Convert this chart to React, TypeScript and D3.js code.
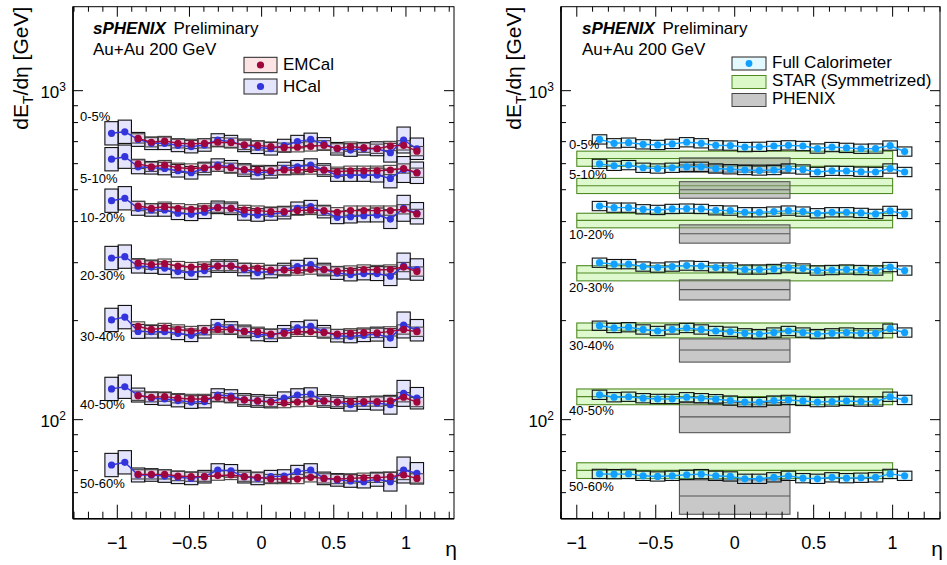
import React from 'react';
import * as d3 from 'd3';

// eta bin centres and width shared by all calorimeter series
const etaBins = [-1.04, -0.948, -0.856, -0.764, -0.672, -0.58, -0.488, -0.396, -0.304, -0.212, -0.12, -0.028,
  0.064, 0.156, 0.248, 0.34, 0.432, 0.524, 0.616, 0.708, 0.8, 0.892, 0.984, 1.076];
const binWidth = 0.092;
const etaEmcal = etaBins.slice(2);

const centralities = ['0-5%', '5-10%', '10-20%', '20-30%', '30-40%', '40-50%', '50-60%'];

// EMCal (bins 2..23)
const emcal = [
  [716, 697, 703, 692, 689, 692, 697, 695, 684, 682, 676, 671, 673, 677, 682, 668, 676, 671, 666, 679, 682, 655],
  [599, 587, 594, 583, 580, 583, 587, 583, 576, 574, 571, 574, 574, 576, 574, 567, 571, 571, 571, 574, 580, 563],
  [446, 439, 444, 439, 436, 439, 441, 439, 434, 432, 429, 429, 432, 434, 432, 427, 432, 432, 432, 432, 436, 422],
  [299, 296, 298, 293, 291, 292, 293, 293, 289, 289, 285, 285, 284, 286, 286, 283, 284, 286, 285, 286, 291, 282],
  [192, 188, 190, 188, 186, 187, 188, 188, 185.5, 185, 182, 183, 185, 185, 184, 182, 183, 184, 183.5, 185.5, 188, 185],
  [118.2, 117.0, 117.5, 116.2, 115.6, 115.6, 117.0, 116.2, 114.8, 114.0, 113.1, 112.3, 113.1, 113.5, 114.0, 113.1, 113.5, 113.5, 113.5, 114.0, 117.0, 113.1],
  [68.2, 68.2, 68.2, 67.4, 67.1, 67.1, 67.6, 67.9, 67.1, 66.8, 66.0, 66.0, 66.0, 66.8, 66.3, 66.0, 66.3, 66.6, 66.6, 67.1, 67.9, 66.3],
];
const emcalSys = 0.033;

// HCal (all 24 bins)
const hcal = [
  [742, 750, 711, 692, 692, 682, 676, 684, 708, 700, 682, 673, 666, 681, 700, 711, 689, 666, 660, 666, 666, 648, 708, 666],
  [619, 630, 587, 583, 580, 571, 563, 580, 594, 587, 574, 563, 567, 580, 587, 594, 574, 554, 554, 554, 554, 541, 576, 563],
  [463, 471, 439, 434, 434, 424, 421, 427, 442, 439, 422, 419, 422, 426, 439, 444, 429, 412, 414, 417, 419, 407, 439, 424],
  [310, 313, 293, 291, 289, 282, 279, 284, 293, 293, 286, 280, 282, 286, 292, 296, 286, 279, 276, 278, 278, 273, 293, 286],
  [201, 205, 185.5, 185, 185, 183, 180.5, 185, 193, 190, 185.5, 181.5, 180.5, 185, 190, 192, 185, 180, 179, 180.5, 182, 177, 194, 187],
  [124.0, 125.9, 118.8, 116.2, 115.6, 114.3, 113.1, 113.5, 118.8, 118.0, 114.8, 114.0, 113.5, 116.2, 118.8, 119.6, 114.0, 113.1, 111.0, 112.3, 112.3, 111.0, 120.2, 116.2],
  [72.8, 74.2, 67.9, 67.9, 67.4, 66.8, 66.3, 67.1, 70.3, 69.9, 67.1, 66.3, 67.1, 67.4, 69.5, 70.3, 66.3, 65.6, 65.1, 64.8, 65.9, 64.8, 70.3, 68.7],
];
const hcalSys = [0.085, 0.085, 0.05, 0.045, 0.045, 0.045, 0.045, 0.045, 0.045, 0.045, 0.045, 0.045,
  0.045, 0.045, 0.045, 0.045, 0.045, 0.045, 0.045, 0.045, 0.05, 0.068, 0.095, 0.078];

// Full calorimeter (bins 2..23)
const fullCalo = [
  [711, 692, 695, 687, 684, 689, 697, 692, 682, 681, 674, 675, 679, 682, 679, 667, 674, 670, 666, 667, 681, 653],
  [599, 591, 594, 583, 580, 583, 587, 587, 580, 577, 574, 572, 574, 580, 576, 566, 571, 570, 567, 566, 580, 566],
  [446, 441, 441, 436, 434, 437, 438, 437, 433, 432, 427, 427, 429, 432, 429, 424, 427, 427, 425, 422, 431, 422],
  [300, 297, 297, 292, 290, 292, 294, 293, 290, 290, 286, 286, 287, 290, 288, 284, 285, 286, 285, 284, 291, 284],
  [193, 190, 191, 188, 186, 188, 190, 188, 186, 185, 183, 182, 184, 186, 184, 182, 183, 184, 183, 183, 189, 184],
  [119, 117, 117.4, 116.2, 115.6, 115.6, 117, 116.2, 115.4, 114.3, 113.1, 113.1, 114.3, 114.8, 114, 113.1, 113.5, 114, 113.5, 113.5, 117.4, 114.8],
  [68.4, 68.3, 68.4, 67.5, 67.2, 67.5, 68, 68.3, 67.5, 67.2, 66.1, 66.1, 66.8, 67.5, 66.4, 66.1, 66.8, 66.4, 66.6, 66.8, 68.4, 67.5],
];
const fullSys = 0.033;

// STAR (symmetrized) and PHENIX references
const starRange = [-1, 1];
const starValues = [622, 514, 403.5, 279, 187, 117.5, 70.1];
const starSys = [0.053, 0.053, 0.051, 0.053, 0.052, 0.055, 0.055];
const phenixRange = [-0.35, 0.35];
const phenixValues = [595, 500, 367.5, 248.5, 162.8, 102, 58.6];
const phenixSys = [0.05, 0.058, 0.064, 0.07, 0.081, 0.105, 0.12];

// centrality label anchors (GeV) for each panel
const labelLeft = [809, 524, 399, 266, 173, 108, 62];
const labelRight = [665, 539, 354, 244, 163, 103, 60.6];

const xMajor = [-1, -0.5, 0, 0.5, 1];
const yMajor = [100, 1000];
const yMinor = [60, 70, 80, 90, 200, 300, 400, 500, 600, 700, 800, 900];

const FONT = "'Liberation Sans', Arial, Helvetica, sans-serif";
const C_EM = '#a0063c';
const C_HC = '#3434dc';
const C_FC = '#12a0ff';

const y = d3.scaleLog().domain([50, 1800]).range([518.7, 6.7]);
const xL = d3.scaleLinear().domain([-1.307, 1.333]).range([73, 454]);
const xR = d3.scaleLinear().domain([-1.1, 1.3]).range([561, 940]);

const fmtTick = (v: number) => (v < 0 ? '\u2212' + Math.abs(v) : String(v));

function Axes({ x, titleX }: { x: d3.ScaleLinear<number, number>; titleX: number }) {
  const [x0, x1] = x.range();
  const [d0, d1] = x.domain();
  const [yb, yt] = y.range();
  const minorX = d3.range(Math.ceil(d0 * 10 - 1e-6), Math.floor(d1 * 10 + 1e-6) + 1).map((k) => k / 10)
    .filter((v) => !xMajor.some((m) => Math.abs(m - v) < 1e-6));
  return (
    <g>
      <rect x={x0} y={yt} width={x1 - x0} height={yb - yt} fill="none" stroke="#000" strokeWidth={1} />
      <line x1={x0} x2={x0} y1={yt} y2={yb} stroke="#000" strokeWidth={1.6} />
      <line x1={x0} x2={x1} y1={yb} y2={yb} stroke="#000" strokeWidth={1.6} />
      {xMajor.map((v) => (
        <g key={'M' + v}>
          <line x1={x(v)} x2={x(v)} y1={yb} y2={yb - 14} stroke="#000" />
          <line x1={x(v)} x2={x(v)} y1={yt} y2={yt + 10} stroke="#000" />
          <text x={x(v)} y={yb + 30} textAnchor="middle" fontSize={18} fontFamily={FONT}>{fmtTick(v)}</text>
        </g>
      ))}
      {minorX.map((v) => (
        <g key={'m' + v}>
          <line x1={x(v)} x2={x(v)} y1={yb} y2={yb - 7} stroke="#000" />
          <line x1={x(v)} x2={x(v)} y1={yt} y2={yt + 5} stroke="#000" />
        </g>
      ))}
      {yMajor.map((v) => (
        <g key={'Y' + v}>
          <line x1={x0} x2={x0 + 10} y1={y(v)} y2={y(v)} stroke="#000" />
          <line x1={x1} x2={x1 - 10} y1={y(v)} y2={y(v)} stroke="#000" />
          <text x={x0 - 7} y={y(v) + 7} textAnchor="end" fontSize={17} fontFamily={FONT}>
            10<tspan dy={-7} fontSize={12}>{Math.round(Math.log10(v))}</tspan>
          </text>
        </g>
      ))}
      {yMinor.map((v) => (
        <g key={'y' + v}>
          <line x1={x0} x2={x0 + 5} y1={y(v)} y2={y(v)} stroke="#000" />
          <line x1={x1} x2={x1 - 5} y1={y(v)} y2={y(v)} stroke="#000" />
        </g>
      ))}
      <text x={x1 + 3} y={556} textAnchor="end" fontSize={21} fontFamily={FONT}>η</text>
      <text transform={`translate(${titleX},${yt}) rotate(-90)`} textAnchor="end" fontSize={21} fontFamily={FONT}>
        dE<tspan dy={5} fontSize={14}>T</tspan><tspan dy={-5}>/dη [GeV]</tspan>
      </text>
    </g>
  );
}

function Header({ x0 }: { x0: number }) {
  return (
    <g fontFamily={FONT} fontSize={17}>
      <text x={x0} y={34}>
        <tspan fontWeight="bold" fontStyle="italic">sPHENIX</tspan>
        <tspan dx={3}> Preliminary</tspan>
      </text>
      <text x={x0} y={55}>Au+Au 200 GeV</text>
    </g>
  );
}

function boxes(x: d3.ScaleLinear<number, number>, etas: number[], vals: number[], sys: (i: number) => number,
  fill: string, stroke: string, key: string) {
  return vals.map((v, i) => {
    const s = sys(i);
    const top = y(v * (1 + s));
    const bot = y(v / (1 + s));
    const xa = x(etas[i] - binWidth / 2);
    const xb = x(etas[i] + binWidth / 2);
    return <rect key={key + i} x={xa} y={top} width={xb - xa} height={bot - top} fill={fill} stroke={stroke} strokeWidth={1.1} />;
  });
}

function series(x: d3.ScaleLinear<number, number>, etas: number[], vals: number[], color: string, key: string) {
  const line = d3.line<number>().x((_, i) => x(etas[i])).y((v) => y(v));
  return (
    <g key={key}>
      <path d={line(vals) || ''} fill="none" stroke={color} strokeWidth={1.4} />
      {vals.map((v, i) => <circle key={i} cx={x(etas[i])} cy={y(v)} r={3.6} fill={color} />)}
    </g>
  );
}

function LeftPanel() {
  return (
    <g>
      {hcal.map((vals, c) => <g key={'hb' + c}>{boxes(xL, etaBins, vals, (i) => hcalSys[i], 'rgba(90,90,235,0.16)', '#111', 'h')}</g>)}
      {emcal.map((vals, c) => <g key={'eb' + c}>{boxes(xL, etaEmcal, vals, () => emcalSys, 'rgba(235,90,90,0.14)', '#444', 'e')}</g>)}
      {hcal.map((vals, c) => series(xL, etaBins, vals, C_HC, 'hs' + c))}
      {emcal.map((vals, c) => series(xL, etaEmcal, vals, C_EM, 'es' + c))}
      {centralities.map((t, c) => (
        <text key={t} x={80} y={y(labelLeft[c])} fontSize={13} fontFamily={FONT}>{t}</text>
      ))}
      <Axes x={xL} titleX={28} />
      <Header x0={93} />
      <g fontFamily={FONT} fontSize={17}>
        <rect x={244} y={57.3} width={33} height={15.4} fill="rgba(235,90,90,0.16)" stroke="#222" />
        <circle cx={260.5} cy={65} r={3.6} fill={C_EM} />
        <text x={283} y={70}>EMCal</text>
        <rect x={244} y={79} width={33} height={15} fill="rgba(90,90,235,0.16)" stroke="#222" />
        <circle cx={260.5} cy={86.5} r={3.6} fill={C_HC} />
        <text x={283} y={92}>HCal</text>
      </g>
    </g>
  );
}

function RightPanel() {
  const band = (range: number[], v: number, s: number, fill: string, stroke: string, key: string) => {
    const xa = xR(range[0]);
    const xb = xR(range[1]);
    const top = y(v * (1 + s));
    const bot = y(v * (1 - s));
    return (
      <g key={key}>
        <rect x={xa} y={top} width={xb - xa} height={bot - top} fill={fill} stroke={stroke} strokeWidth={1.1} />
        <line x1={xa} x2={xb} y1={y(v)} y2={y(v)} stroke={stroke} strokeWidth={1.1} />
      </g>
    );
  };
  return (
    <g>
      {starValues.map((v, c) => band(starRange, v, starSys[c], 'rgba(175,240,135,0.4)', '#4f8a22', 'st' + c))}
      {phenixValues.map((v, c) => band(phenixRange, v, phenixSys[c], 'rgba(140,140,140,0.48)', '#555', 'ph' + c))}
      {fullCalo.map((vals, c) => <g key={'fb' + c}>{boxes(xR, etaEmcal, vals, () => fullSys, 'rgba(120,220,255,0.2)', '#111', 'f')}</g>)}
      {fullCalo.map((vals, c) => series(xR, etaEmcal, vals, C_FC, 'fs' + c))}
      {centralities.map((t, c) => (
        <text key={t} x={569} y={y(labelRight[c])} fontSize={13} fontFamily={FONT}>{t}</text>
      ))}
      <Axes x={xR} titleX={521} />
      <Header x0={582} />
      <g fontFamily={FONT} fontSize={17}>
        <rect x={732} y={57} width={34} height={13} fill="rgba(120,220,255,0.2)" stroke="#222" />
        <circle cx={749} cy={63.5} r={3.4} fill={C_FC} />
        <text x={772} y={68}>Full Calorimeter</text>
        <rect x={732} y={75.5} width={34} height={13} fill="rgba(175,240,135,0.45)" stroke="#4f8a22" />
        <text x={772} y={86}>STAR (Symmetrized)</text>
        <rect x={732} y={93.5} width={34} height={13} fill="rgba(140,140,140,0.48)" stroke="#444" />
        <text x={772} y={104}>PHENIX</text>
      </g>
    </g>
  );
}

export default function App() {
  return (
    <svg width={947} height={565} viewBox="0 0 947 565"
      style={{ position: 'absolute', left: 0, top: 0, background: '#fff' }}>
      <rect width={947} height={565} fill="#fff" />
      <LeftPanel />
      <RightPanel />
    </svg>
  );
}
